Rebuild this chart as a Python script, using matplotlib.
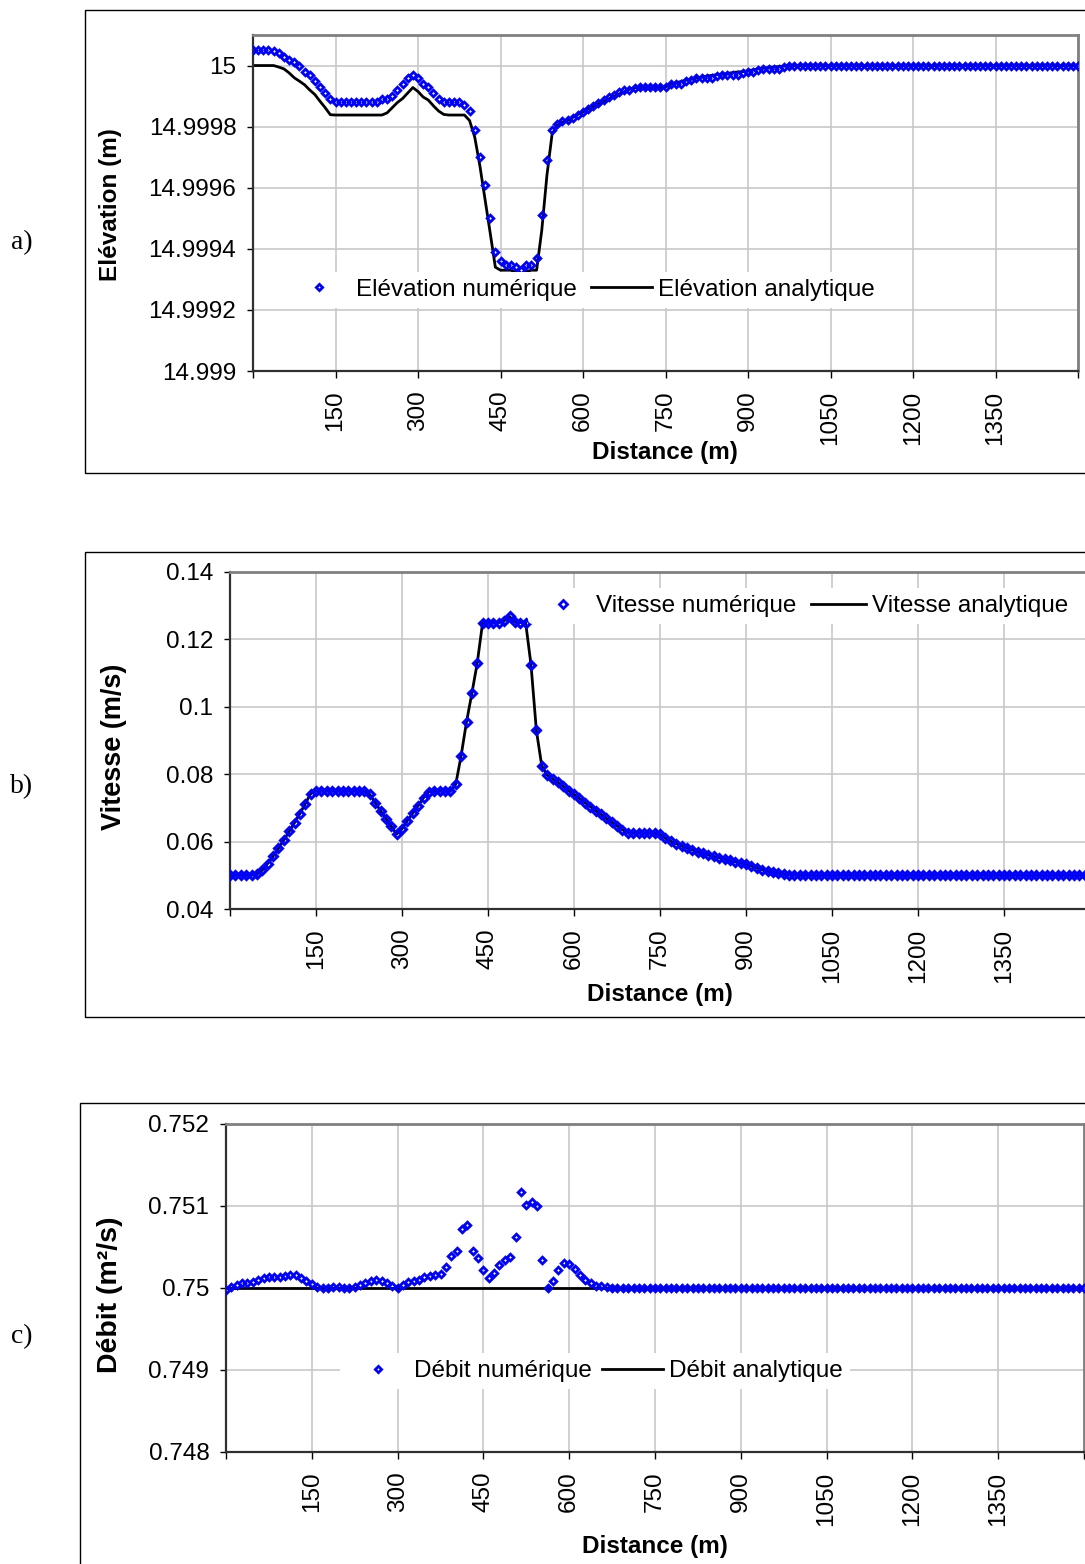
import matplotlib
matplotlib.use("Agg")
import matplotlib.pyplot as plt
import numpy as np
from matplotlib.lines import Line2D
from matplotlib.patches import Rectangle

# ---------------- data (161 points, one every 9.375 m from 0 to 1500 m) ----------------
distance_labels = ["150", "300", "450", "600", "750", "900", "1050", "1200", "1350"]
categories_par_label = 16

elevation_numerique = [
    15.00005, 15.00005, 15.00005, 15.00005, 15.000049, 15.00004, 15.000029, 15.000019, 15.00001, 15.0,
    14.99998, 14.99997, 14.99995, 14.99993, 14.99991, 14.99989, 14.99988, 14.99988, 14.99988, 14.99988,
    14.99988, 14.99988, 14.99988, 14.99988, 14.99988, 14.99989, 14.99989, 14.99990, 14.99992, 14.99994,
    14.99996, 14.99997, 14.99996, 14.99994, 14.99993, 14.99991, 14.99989, 14.99988, 14.99988, 14.99988,
    14.99988, 14.99987, 14.99985, 14.99979, 14.99970, 14.99961, 14.99950, 14.99939, 14.99936, 14.999348,
    14.999346, 14.99934, 14.99933, 14.999346, 14.999346, 14.99937, 14.99951, 14.99969, 14.99979, 14.999807,
    14.99982, 14.999822, 14.999828, 14.999837, 14.999848, 14.999858, 14.999867, 14.999876, 14.999886, 14.999897,
    14.999904, 14.999912, 14.99992, 14.99992, 14.999928, 14.999931, 14.999931, 14.999931, 14.999931, 14.999931,
    14.999931, 14.99994, 14.99994, 14.99994, 14.999948, 14.999954, 14.999959, 14.999959, 14.999959, 14.999959,
    14.999965, 14.99997, 14.99997, 14.99997, 14.99997, 14.999975, 14.999978, 14.999978, 14.999985, 14.999989,
    14.999989, 14.999989, 14.999989, 14.999995, 15.0, 15.0, 15.0, 15.0, 15.0, 15.0,
    15.0, 15.0, 15.0, 15.0, 15.0, 15.0, 15.0, 15.0, 15.0, 15.0,
    15.0, 15.0, 15.0, 15.0, 15.0, 15.0, 15.0, 15.0, 15.0, 15.0,
    15.0, 15.0, 15.0, 15.0, 15.0, 15.0, 15.0, 15.0, 15.0, 15.0,
    15.0, 15.0, 15.0, 15.0, 15.0, 15.0, 15.0, 15.0, 15.0, 15.0,
    15.0, 15.0, 15.0, 15.0, 15.0, 15.0, 15.0, 15.0, 15.0, 15.0,
    15.0,
]

elevation_analytique = [
    15.0, 15.0, 15.0, 15.0, 15.0, 14.999995, 14.999989, 14.999976, 14.99996, 14.999949,
    14.999937, 14.99992, 14.999905, 14.999883, 14.999862, 14.999839, 14.999838, 14.999838, 14.999838, 14.999838,
    14.999838, 14.999838, 14.999838, 14.999838, 14.999838, 14.999838, 14.999845, 14.999862, 14.999879, 14.999892,
    14.99991, 14.999928, 14.999915, 14.999897, 14.999887, 14.999868, 14.999851, 14.99984, 14.999838, 14.999838,
    14.999838, 14.999838, 14.99982, 14.999766, 14.999672, 14.999563, 14.999452, 14.99934, 14.99933, 14.99933,
    14.99933, 14.999323, 14.99931, 14.999326, 14.99933, 14.99933, 14.99946, 14.99964, 14.999775, 14.999805,
    14.999815, 14.99982, 14.99983, 14.99984, 14.999848, 14.999857, 14.999866, 14.999875, 14.999883, 14.999891,
    14.999899, 14.999907, 14.999914, 14.999922, 14.999928, 14.999928, 14.999928, 14.999928, 14.999928, 14.999928,
    14.99993, 14.999938, 14.999943, 14.999948, 14.999952, 14.999955, 14.999959, 14.999962, 14.999965, 14.999968,
    14.99997, 14.999972, 14.999974, 14.999977, 14.999979, 14.99998, 14.999983, 14.999986, 14.999989, 14.999991,
    14.999994, 14.999995, 14.999997, 14.999998, 14.999999, 15.0, 15.0, 15.0, 15.0, 15.0,
    15.0, 15.0, 15.0, 15.0, 15.0, 15.0, 15.0, 15.0, 15.0, 15.0,
    15.0, 15.0, 15.0, 15.0, 15.0, 15.0, 15.0, 15.0, 15.0, 15.0,
    15.0, 15.0, 15.0, 15.0, 15.0, 15.0, 15.0, 15.0, 15.0, 15.0,
    15.0, 15.0, 15.0, 15.0, 15.0, 15.0, 15.0, 15.0, 15.0, 15.0,
    15.0, 15.0, 15.0, 15.0, 15.0, 15.0, 15.0, 15.0, 15.0, 15.0,
    15.0,
]

vitesse_numerique = [
    0.0500, 0.0500, 0.0500, 0.0500, 0.0500, 0.0503, 0.0515, 0.0535, 0.0556, 0.0580,
    0.0604, 0.0630, 0.0656, 0.0683, 0.0712, 0.0742, 0.0750, 0.0750, 0.0750, 0.0750,
    0.0750, 0.0750, 0.0750, 0.0750, 0.0750, 0.0750, 0.0740, 0.0716, 0.0692, 0.0668,
    0.0645, 0.0622, 0.0638, 0.0662, 0.0684, 0.0706, 0.0730, 0.0748, 0.0750, 0.0750,
    0.0750, 0.0750, 0.0770, 0.0855, 0.0955, 0.1040, 0.1130, 0.1250, 0.1250, 0.1250,
    0.1250, 0.1255, 0.1268, 0.1252, 0.1250, 0.1250, 0.1125, 0.0930, 0.0825, 0.0797,
    0.0786, 0.0776, 0.0764, 0.0751, 0.0740, 0.0728, 0.0716, 0.0704, 0.0692, 0.0681,
    0.0669, 0.0658, 0.0647, 0.0635, 0.0626, 0.0625, 0.0625, 0.0625, 0.0625, 0.0625,
    0.0622, 0.0610, 0.0601, 0.0594, 0.0587, 0.0581, 0.0575, 0.0570, 0.0565, 0.0560,
    0.0556, 0.0552, 0.0548, 0.0544, 0.0540, 0.0537, 0.0533, 0.0527, 0.0522, 0.0517,
    0.0512, 0.0509, 0.0506, 0.0504, 0.0502, 0.0501, 0.0500, 0.0500, 0.0500, 0.0500,
    0.0500, 0.0500, 0.0500, 0.0500, 0.0500, 0.0500, 0.0500, 0.0500, 0.0500, 0.0500,
    0.0500, 0.0500, 0.0500, 0.0500, 0.0500, 0.0500, 0.0500, 0.0500, 0.0500, 0.0500,
    0.0500, 0.0500, 0.0500, 0.0500, 0.0500, 0.0500, 0.0500, 0.0500, 0.0500, 0.0500,
    0.0500, 0.0500, 0.0500, 0.0500, 0.0500, 0.0500, 0.0500, 0.0500, 0.0500, 0.0500,
    0.0500, 0.0500, 0.0500, 0.0500, 0.0500, 0.0500, 0.0500, 0.0500, 0.0500, 0.0500,
    0.0500,
]

vitesse_analytique = [
    0.0500, 0.0500, 0.0500, 0.0500, 0.0500, 0.0503, 0.0515, 0.0535, 0.0556, 0.0580,
    0.0604, 0.0630, 0.0656, 0.0683, 0.0712, 0.0742, 0.0750, 0.0750, 0.0750, 0.0750,
    0.0750, 0.0750, 0.0750, 0.0750, 0.0750, 0.0750, 0.0740, 0.0716, 0.0692, 0.0668,
    0.0645, 0.0622, 0.0638, 0.0662, 0.0684, 0.0706, 0.0730, 0.0748, 0.0750, 0.0750,
    0.0750, 0.0750, 0.0770, 0.0855, 0.0955, 0.1040, 0.1130, 0.1250, 0.1250, 0.1250,
    0.1250, 0.1255, 0.1268, 0.1252, 0.1250, 0.1250, 0.1125, 0.0930, 0.0825, 0.0797,
    0.0786, 0.0776, 0.0764, 0.0751, 0.0740, 0.0728, 0.0716, 0.0704, 0.0692, 0.0681,
    0.0669, 0.0658, 0.0647, 0.0635, 0.0626, 0.0625, 0.0625, 0.0625, 0.0625, 0.0625,
    0.0622, 0.0610, 0.0601, 0.0594, 0.0587, 0.0581, 0.0575, 0.0570, 0.0565, 0.0560,
    0.0556, 0.0552, 0.0548, 0.0544, 0.0540, 0.0537, 0.0533, 0.0527, 0.0522, 0.0517,
    0.0512, 0.0509, 0.0506, 0.0504, 0.0502, 0.0501, 0.0500, 0.0500, 0.0500, 0.0500,
    0.0500, 0.0500, 0.0500, 0.0500, 0.0500, 0.0500, 0.0500, 0.0500, 0.0500, 0.0500,
    0.0500, 0.0500, 0.0500, 0.0500, 0.0500, 0.0500, 0.0500, 0.0500, 0.0500, 0.0500,
    0.0500, 0.0500, 0.0500, 0.0500, 0.0500, 0.0500, 0.0500, 0.0500, 0.0500, 0.0500,
    0.0500, 0.0500, 0.0500, 0.0500, 0.0500, 0.0500, 0.0500, 0.0500, 0.0500, 0.0500,
    0.0500, 0.0500, 0.0500, 0.0500, 0.0500, 0.0500, 0.0500, 0.0500, 0.0500, 0.0500,
    0.0500,
]

debit_numerique = [
    0.74998, 0.75001, 0.75004, 0.750055, 0.75006, 0.750072, 0.750092, 0.750118, 0.750134, 0.750138,
    0.75014, 0.750145, 0.750155, 0.75016, 0.750125, 0.75009, 0.75005, 0.750015, 0.750005, 0.750005,
    0.750008, 0.750008, 0.750005, 0.750005, 0.750018, 0.75004, 0.750055, 0.75008, 0.750098, 0.75009,
    0.75006, 0.75003, 0.749995, 0.75004, 0.75007, 0.75009, 0.7501, 0.75013, 0.750148, 0.750162,
    0.750167, 0.75026, 0.750394, 0.750455, 0.75072, 0.750768, 0.750455, 0.750362, 0.75022, 0.750118,
    0.750179, 0.75028, 0.750341, 0.750382, 0.750626, 0.751174, 0.751012, 0.751053, 0.751004, 0.750341,
    0.75, 0.750085, 0.75022, 0.750301, 0.750297, 0.750228, 0.750159, 0.750098, 0.750057, 0.75003,
    0.75002, 0.75001, 0.750003, 0.75, 0.75, 0.75, 0.75, 0.75, 0.75, 0.75,
    0.750003, 0.750003, 0.75, 0.75, 0.75, 0.75, 0.75, 0.75, 0.75, 0.750003,
    0.750003, 0.75, 0.75, 0.75, 0.75, 0.75, 0.75, 0.75, 0.75, 0.75,
    0.75, 0.75, 0.75, 0.75, 0.75, 0.75, 0.75, 0.75, 0.75, 0.75,
    0.75, 0.75, 0.75, 0.75, 0.75, 0.75, 0.75, 0.75, 0.75, 0.75,
    0.75, 0.75, 0.75, 0.75, 0.75, 0.75, 0.75, 0.75, 0.75, 0.75,
    0.75, 0.75, 0.75, 0.75, 0.75, 0.75, 0.75, 0.75, 0.75, 0.75,
    0.75, 0.75, 0.75, 0.75, 0.749997, 0.749997, 0.749997, 0.75, 0.75, 0.75,
    0.75, 0.75, 0.75, 0.75, 0.75, 0.75, 0.75, 0.75, 0.75, 0.75,
    0.750003,
]

debit_analytique = [
    0.75, 0.75, 0.75, 0.75, 0.75, 0.75, 0.75, 0.75, 0.75, 0.75,
    0.75, 0.75, 0.75, 0.75, 0.75, 0.75, 0.75, 0.75, 0.75, 0.75,
    0.75, 0.75, 0.75, 0.75, 0.75, 0.75, 0.75, 0.75, 0.75, 0.75,
    0.75, 0.75, 0.75, 0.75, 0.75, 0.75, 0.75, 0.75, 0.75, 0.75,
    0.75, 0.75, 0.75, 0.75, 0.75, 0.75, 0.75, 0.75, 0.75, 0.75,
    0.75, 0.75, 0.75, 0.75, 0.75, 0.75, 0.75, 0.75, 0.75, 0.75,
    0.75, 0.75, 0.75, 0.75, 0.75, 0.75, 0.75, 0.75, 0.75, 0.75,
    0.75, 0.75, 0.75, 0.75, 0.75, 0.75, 0.75, 0.75, 0.75, 0.75,
    0.75, 0.75, 0.75, 0.75, 0.75, 0.75, 0.75, 0.75, 0.75, 0.75,
    0.75, 0.75, 0.75, 0.75, 0.75, 0.75, 0.75, 0.75, 0.75, 0.75,
    0.75, 0.75, 0.75, 0.75, 0.75, 0.75, 0.75, 0.75, 0.75, 0.75,
    0.75, 0.75, 0.75, 0.75, 0.75, 0.75, 0.75, 0.75, 0.75, 0.75,
    0.75, 0.75, 0.75, 0.75, 0.75, 0.75, 0.75, 0.75, 0.75, 0.75,
    0.75, 0.75, 0.75, 0.75, 0.75, 0.75, 0.75, 0.75, 0.75, 0.75,
    0.75, 0.75, 0.75, 0.75, 0.75, 0.75, 0.75, 0.75, 0.75, 0.75,
    0.75, 0.75, 0.75, 0.75, 0.75, 0.75, 0.75, 0.75, 0.75, 0.75,
    0.75,
]

elev_ticks = [14.999, 14.9992, 14.9994, 14.9996, 14.9998, 15.0]
elev_ticklabels = ["14.999", "14.9992", "14.9994", "14.9996", "14.9998", "15"]
vit_ticks = [0.04, 0.06, 0.08, 0.10, 0.12, 0.14]
vit_ticklabels = ["0.04", "0.06", "0.08", "0.1", "0.12", "0.14"]
deb_ticks = [0.748, 0.749, 0.750, 0.751, 0.752]
deb_ticklabels = ["0.748", "0.749", "0.75", "0.751", "0.752"]

# ---------------- figure ----------------
plt.rcParams["font.family"] = ["Liberation Sans", "DejaVu Sans"]
W, H = 1085, 1564
fig = plt.figure(figsize=(W / 100, H / 100), dpi=100)
BLUE = "#0000FF"
FS = 17.5


def rect(l, t, r, b):
    return [l / W, 1 - b / H, (r - l) / W, (b - t) / H]


def P(x, y):
    return (x / W, 1 - y / H)


def frame(l, t, r, b):
    fig.add_artist(Rectangle((l / W, 1 - b / H), (r - l) / W, (b - t) / H,
                             transform=fig.transFigure, fill=False, lw=1.0,
                             ec="black", zorder=0))


def setup(ax, ylim, yticks, yticklabels, n):
    ax.set_xlim(0, n - 1)
    ax.set_ylim(*ylim)
    ax.set_yticks(yticks)
    ax.set_yticklabels(yticklabels, fontsize=FS)
    xt = list(range(0, n, categories_par_label))
    ax.set_xticks(xt)
    ax.set_xticklabels([""] + distance_labels + [""], rotation=90, fontsize=FS)
    ax.grid(True, color="#c8c8c8", lw=1.2)
    ax.set_axisbelow(True)
    for s in ("top", "right"):
        ax.spines[s].set_color("#808080")
        ax.spines[s].set_linewidth(2)
    for s in ("left", "bottom"):
        ax.spines[s].set_color("#303030")
        ax.spines[s].set_linewidth(1.6)
    ax.tick_params(axis="y", direction="out", length=4, width=1, pad=8)
    ax.tick_params(axis="x", direction="out", length=5, width=1, pad=9)


def legend(cx, cy, lab1, lab2, ms, mew, hl, ctp, cs):
    h1 = Line2D([], [], ls="none", marker="D", ms=ms, mfc="none", mec=BLUE, mew=mew)
    h2 = Line2D([], [], color="black", lw=2)
    fig.legend([h1, h2], [lab1, lab2], loc="center", bbox_to_anchor=P(cx, cy),
               bbox_transform=fig.transFigure, ncol=2, frameon=True,
               facecolor="white", edgecolor="none", framealpha=1,
               fontsize=FS, handlelength=hl, handletextpad=ctp, columnspacing=cs,
               borderpad=0.3, borderaxespad=0)


n = len(elevation_numerique)
SERIF = ["Liberation Serif", "DejaVu Serif"]

# ----- panel a -----
frame(85, 10, 1200, 473)
axa = fig.add_axes(rect(253, 35, 1078, 371))
setup(axa, (14.999, 15.0001), elev_ticks, elev_ticklabels, n)
axa.plot(elevation_analytique, color="black", lw=2, zorder=2)
axa.plot(elevation_numerique, ls="none", marker="D", ms=3.4, mfc="none",
         mec=BLUE, mew=2.0, zorder=3)
fig.text(*P(110, 205), "Elévation (m)", rotation=90, ha="center", va="center",
         fontsize=FS, fontweight="bold")
fig.text(*P(665, 452), "Distance (m)", ha="center", va="center",
         fontsize=FS, fontweight="bold")
fig.text(*P(22, 243), "a)", ha="center", va="center", fontsize=20, family=SERIF)
legend(582, 290, "Elévation numérique", "Elévation analytique", 3.2, 2.0, 2.5, 0.25, 0.6)

# ----- panel b -----
frame(85, 552, 1200, 1017)
axb = fig.add_axes(rect(230, 572, 1090, 909))
setup(axb, (0.04, 0.14), vit_ticks, vit_ticklabels, n)
axb.plot(vitesse_analytique, color="black", lw=2, zorder=2)
axb.plot(vitesse_numerique, ls="none", marker="D", ms=4.5, mfc="none",
         mec=BLUE, mew=2.2, zorder=3)
fig.text(*P(114, 747), "Vitesse (m/s)", rotation=90, ha="center", va="center",
         fontsize=19.5, fontweight="bold")
fig.text(*P(660, 994), "Distance (m)", ha="center", va="center",
         fontsize=FS, fontweight="bold")
fig.text(*P(22, 787), "b)", ha="center", va="center", fontsize=20, family=SERIF)
legend(802, 606, "Vitesse numérique", "Vitesse analytique", 4.5, 2.0, 2.25, 0.25, 0.6)

# ----- panel c -----
frame(80, 1103, 1200, 1600)
axc = fig.add_axes(rect(226, 1124, 1084, 1452))
setup(axc, (0.748, 0.752), deb_ticks, deb_ticklabels, n)
axc.plot(debit_analytique, color="black", lw=2, zorder=2)
axc.plot(debit_numerique, ls="none", marker="D", ms=3.4, mfc="none",
         mec=BLUE, mew=2.0, zorder=3)
fig.text(*P(110, 1295), "Débit (m²/s)", rotation=90, ha="center", va="center",
         fontsize=20.5, fontweight="bold")
fig.text(*P(655, 1546), "Distance (m)", ha="center", va="center",
         fontsize=FS, fontweight="bold")
fig.text(*P(22, 1337), "c)", ha="center", va="center", fontsize=20, family=SERIF)
legend(595, 1371, "Débit numérique", "Débit analytique", 3.2, 2.0, 2.5, 0.25, 0.4)

fig.savefig("out.png", dpi=100)
